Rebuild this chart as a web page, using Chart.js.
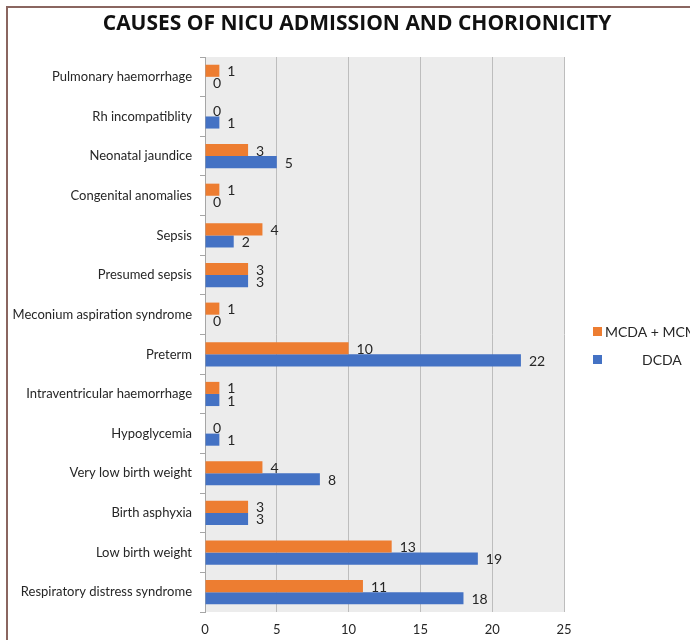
<!DOCTYPE html>
<html>
<head>
<meta charset="utf-8">
<script src="https://cdn.jsdelivr.net/npm/chart.js@4.4.1/dist/chart.umd.min.js"></script>
<style>
  html, body { margin: 0; padding: 0; background: #fff; }
</style>
</head>
<body>
<canvas id="chart" width="690" height="640"></canvas>
<script>
// causes, top to bottom as in the original
const causes = [
  'Pulmonary haemorrhage',
  'Rh incompatiblity',
  'Neonatal jaundice',
  'Congenital anomalies',
  'Sepsis',
  'Presumed sepsis',
  'Meconium aspiration syndrome',
  'Preterm',
  'Intraventricular haemorrhage',
  'Hypoglycemia',
  'Very low birth weight',
  'Birth asphyxia',
  'Low birth weight',
  'Respiratory distress syndrome'
];
const mcdaMcma = [1, 0, 3, 1, 4, 3, 1, 10, 1, 0, 4, 3, 13, 11];
const dcda = [0, 1, 5, 0, 2, 3, 0, 22, 1, 1, 8, 3, 19, 18];
const xTicks = [0, 5, 10, 15, 20, 25];

const TITLE = 'CAUSES OF NICU ADMISSION AND CHORIONICITY';
const ORANGE = '#ED7D31';
const BLUE = '#4472C4';

const plotBg = {
  id: 'plotBg',
  beforeDraw(chart) {
    const { ctx, chartArea: a } = chart;
    ctx.save();
    ctx.fillStyle = '#ececec';
    ctx.fillRect(a.left, a.top, a.right - a.left, a.bottom - a.top);
    ctx.restore();
  }
};

// title + brown frame of the original figure
const frame = {
  id: 'frame',
  afterDraw(chart) {
    const ctx = chart.ctx;
    ctx.save();
    ctx.strokeStyle = '#8a6660';
    ctx.lineWidth = 2;
    ctx.beginPath();
    ctx.moveTo(7, 700);
    ctx.lineTo(7, 7);
    ctx.lineTo(700, 7);
    ctx.stroke();
    ctx.font = 'bold 21px "Open Sans"';
    ctx.fillStyle = '#111';
    ctx.textAlign = 'center';
    ctx.textBaseline = 'middle';
    ctx.fillText(TITLE, 357, 24);
    ctx.restore();
  }
};

const barLabels = {
  id: 'barLabels',
  afterDatasetsDraw(chart) {
    const ctx = chart.ctx;
    ctx.save();
    ctx.font = '14px Lato';
    ctx.fillStyle = '#262626';
    ctx.textAlign = 'left';
    ctx.textBaseline = 'middle';
    chart.data.datasets.forEach((ds, i) => {
      chart.getDatasetMeta(i).data.forEach((bar, j) => {
        ctx.fillText(String(ds.data[j]), bar.x + 8, bar.y + 1);
      });
    });
    ctx.restore();
  }
};

const sideLegend = {
  id: 'sideLegend',
  afterDraw(chart) {
    const ctx = chart.ctx;
    ctx.save();
    ctx.font = '14px Lato';
    ctx.textBaseline = 'middle';
    ctx.fillStyle = ORANGE;
    ctx.fillRect(593, 327, 9, 9);
    ctx.fillStyle = BLUE;
    ctx.fillRect(593, 355, 9, 9);
    ctx.fillStyle = '#262626';
    ctx.fillText(chart.data.datasets[0].label, 605, 332);
    ctx.fillText(chart.data.datasets[1].label, 642, 360);
    ctx.restore();
  }
};

new Chart(document.getElementById('chart'), {
  type: 'bar',
  data: {
    labels: causes,
    datasets: [
      { label: 'MCDA + MCMA', data: mcdaMcma, backgroundColor: ORANGE, categoryPercentage: 0.61, barPercentage: 1.0 },
      { label: 'DCDA', data: dcda, backgroundColor: BLUE, categoryPercentage: 0.61, barPercentage: 1.0 }
    ]
  },
  options: {
    indexAxis: 'y',
    responsive: false,
    animation: false,
    layout: { padding: { left: 2, right: 126, top: 57, bottom: 2 } },
    plugins: {
      legend: { display: false },
      tooltip: { enabled: false },
      title: { display: false }
    },
    scales: {
      x: {
        min: 0,
        max: 25,
        afterBuildTicks(scale) { scale.ticks = xTicks.map(v => ({ value: v })); },
        afterFit(scale) { scale.height = 26; },
        grid: { color: '#bdbdbd', drawTicks: false },
        border: { display: false },
        ticks: { color: '#262626', font: { family: 'Lato', size: 13 }, padding: 10 }
      },
      y: {
        afterFit(scale) { scale.width = 203; },
        grid: { offset: true, drawOnChartArea: false, color: '#a6a6a6', tickLength: 5 },
        border: { color: '#a6a6a6' },
        ticks: { color: '#262626', font: { family: 'Lato', size: 13 }, padding: 8 }
      }
    }
  },
  plugins: [plotBg, barLabels, sideLegend, frame]
});
</script>
</body>
</html>
